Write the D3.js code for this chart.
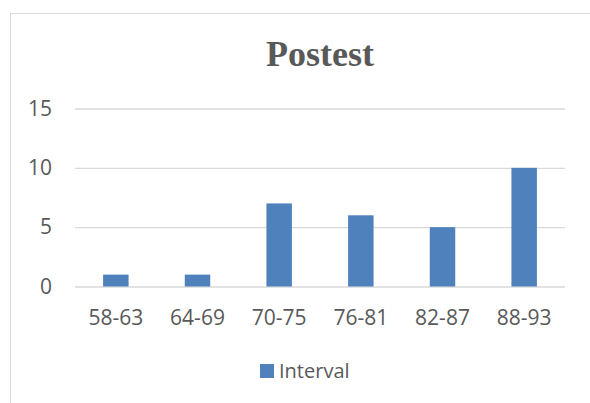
<!DOCTYPE html>
<html><head><meta charset="utf-8">
<script src="https://cdn.jsdelivr.net/npm/d3@7"></script>
<style>body{margin:0;background:#fff}svg{display:block}</style>
</head><body>
<svg id="c" width="590" height="403"></svg>
<script>
const categories = ["58-63","64-69","70-75","76-81","82-87","88-93"];
const values = [1,1,7,6,5,10];
const yTicks = [0,5,10,15];
const seriesName = "Interval";
const title = "Postest";

const svg = d3.select("#c");
svg.append("rect").attr("x",10.5).attr("y",13.5).attr("width",640).attr("height",420)
  .attr("fill","#fff").attr("stroke","#d9d9d9").attr("stroke-width",1);

const x = d3.scaleBand().domain(categories).range([75,565]).paddingInner(0.688).paddingOuter(0.344);
const y = d3.scaleLinear().domain([0,15]).range([286.5,108.5]);

const gy = svg.append("g").attr("transform","translate(75,0)")
  .call(d3.axisLeft(y).tickValues(yTicks).tickSize(-490).tickPadding(23).tickFormat(d3.format("d")));
gy.select(".domain").remove();
gy.selectAll("line").attr("stroke","#d9d9d9").attr("stroke-width",1.3);
gy.selectAll("text").attr("fill","#595959").style("font-family","'Open Sans'").style("font-size","21px");

svg.append("g").selectAll("rect").data(values).join("rect")
  .attr("x",(d,i)=>x(categories[i])).attr("width",x.bandwidth())
  .attr("y",d=>y(d)).attr("height",d=>y(0)-y(d)).attr("fill","#4f81bd");

const gx = svg.append("g").attr("transform","translate(0,286.5)")
  .call(d3.axisBottom(x).tickSize(0).tickPadding(23.5));
gx.select(".domain").remove();
gx.selectAll("text").attr("fill","#595959").style("font-family","'Open Sans'").style("font-size","21px");

svg.append("text").attr("x",320).attr("y",66).attr("text-anchor","middle")
  .attr("fill","#595959").style("font-family","'Liberation Serif'").style("font-weight","bold").style("font-size","36px")
  .text(title);

const lg = svg.append("g");
lg.append("rect").attr("x",260).attr("y",364).attr("width",14).attr("height",14).attr("fill","#4f81bd");
lg.append("text").attr("x",279).attr("y",378).attr("fill","#595959")
  .style("font-family","'Open Sans'").style("font-size","20px").text(seriesName);
</script>
</body></html>
